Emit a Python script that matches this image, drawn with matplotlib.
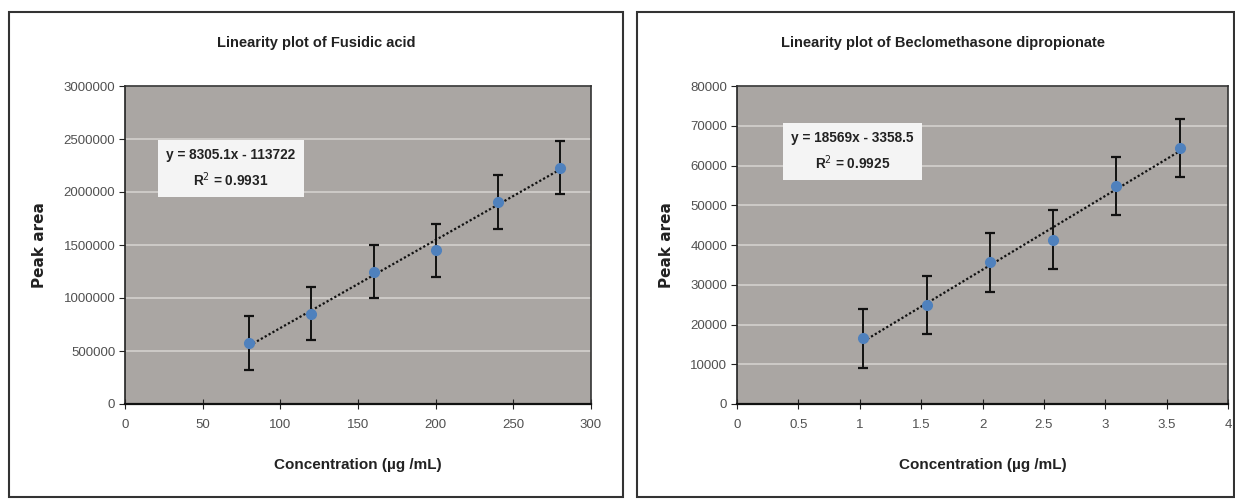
import numpy as np
import matplotlib
matplotlib.use('Agg')
import matplotlib.pyplot as plt
from matplotlib.patches import Rectangle

plt.rcParams['font.family'] = ['Liberation Sans', 'DejaVu Sans']

# Fusidic acid
fa_conc = [80, 120, 160, 200, 240, 280]
fa_area = [575000, 850000, 1250000, 1450000, 1910000, 2230000]
fa_err = [255000, 250000, 250000, 250000, 255000, 250000]
fa_slope, fa_icept = 8305.1, -113722
fa_eq = ['y = 8305.1x - 113722', 'R$^{2}$ = 0.9931']

# Beclomethasone dipropionate
bd_conc = [1.03, 1.545, 2.06, 2.575, 3.09, 3.605]
bd_area = [16500, 24800, 35700, 41300, 54800, 64300]
bd_err = [7500, 7300, 7400, 7400, 7300, 7300]
bd_slope, bd_icept = 18569, -3358.5
bd_eq = ['y = 18569x - 3358.5', 'R$^{2}$ = 0.9925']

PLOT_BG = '#aaa6a3'
GRID = '#d0cdca'
BLUE = '#4f81bd'

fig = plt.figure(figsize=(12.35, 4.99), dpi=100)

# outer chart frames
for x0, x1 in [(9, 623), (637, 1234)]:
    fig.add_artist(Rectangle((x0 / 1235, 2 / 499), (x1 - x0) / 1235, (497 - 12) / 499,
                             transform=fig.transFigure, fill=False, ec='#333333', lw=1.5))


def panel(rect, conc, area, err, slope, icept, eq, xmax, xstep, ymax, ystep,
          title, title_x, box_xy):
    ax = fig.add_axes(rect)
    ax.set_facecolor(PLOT_BG)
    ax.set_xlim(0, xmax)
    ax.set_ylim(0, ymax)
    ax.set_xticks(np.arange(0, xmax + xstep / 2, xstep))
    ax.set_yticks(np.arange(0, ymax + ystep / 2, ystep))
    ax.xaxis.set_major_formatter(lambda v, p: f'{v:g}')
    ax.yaxis.set_major_formatter(lambda v, p: f'{v:.0f}')
    ax.grid(axis='y', color=GRID, lw=1.3, zorder=1)
    ax.set_axisbelow(True)
    for s in ax.spines.values():
        s.set_color('#333333')
        s.set_linewidth(1.2)
    ax.spines['left'].set_color('#222222')
    ax.spines['bottom'].set_color('#111111')
    ax.spines['bottom'].set_linewidth(1.6)
    ax.tick_params(axis='y', direction='out', length=4, color='#222222',
                   labelsize=9.5, labelcolor='#505050', pad=3)
    ax.tick_params(axis='x', direction='inout', length=7, color='#222222',
                   labelsize=9.5, labelcolor='#505050', pad=7)

    xs = np.array([conc[0], conc[-1]])
    ax.plot(xs, slope * xs + icept, ls=(0, (1, 1)), color='#111111', lw=1.6, zorder=3)
    ax.errorbar(conc, area, yerr=err, fmt='o', ms=7, color=BLUE, mec=BLUE,
                ecolor='#111111', elinewidth=1.4, capsize=3.5, capthick=1.6, zorder=4)

    ax.text(box_xy[0], box_xy[1], '\n'.join(eq), transform=ax.transAxes,
            ha='center', va='center', fontsize=9.8, fontweight='bold', color='#222222',
            linespacing=1.5,
            bbox=dict(boxstyle='square,pad=0.6', fc='#f4f4f4', ec='none'))

    # chart title is centred on the whole chart frame, not on the plot area
    fig.text(title_x / 1235, 1 - 43 / 499, title, ha='center', va='center',
             fontsize=10.5, fontweight='bold', color='#222222')
    ax.set_xlabel('Concentration (µg /mL)', fontsize=11, fontweight='bold',
                  color='#222222', labelpad=20)
    ax.set_ylabel('Peak area', fontsize=11, fontweight='bold', color='#222222',
                  family='DejaVu Sans', labelpad=12)
    return ax


panel([125 / 1235, 95 / 499, 466 / 1235, 318 / 499],
      fa_conc, fa_area, fa_err, fa_slope, fa_icept, fa_eq,
      300, 50, 3000000, 500000, 'Linearity plot of Fusidic acid', 316, (0.227, 0.74))

panel([737 / 1235, 95 / 499, 491 / 1235, 318 / 499],
      bd_conc, bd_area, bd_err, bd_slope, bd_icept, bd_eq,
      4, 0.5, 80000, 10000, 'Linearity plot of Beclomethasone dipropionate', 943, (0.235, 0.794))

fig.savefig('out.png', dpi=100)
